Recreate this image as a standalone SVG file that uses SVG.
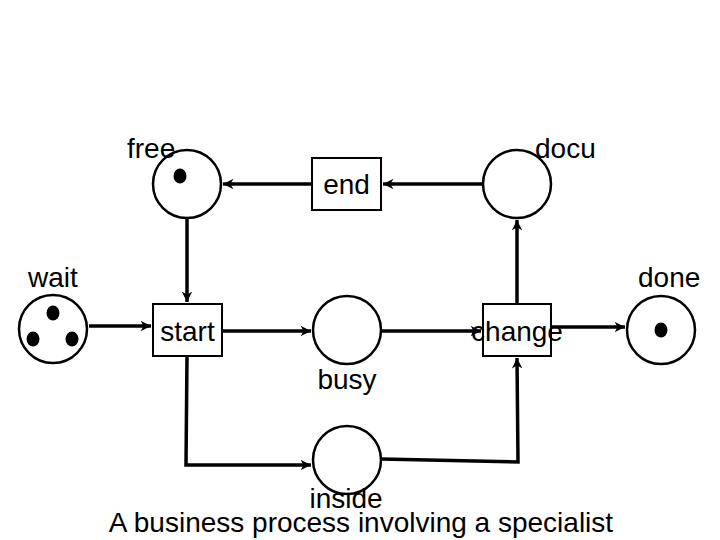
<svg xmlns="http://www.w3.org/2000/svg" width="720" height="540" viewBox="0 0 720 540">
<style>
.place{fill:#fff;stroke:#000;stroke-width:2.5}
.trans{fill:#fff;stroke:#000;stroke-width:2}
.tok{fill:#000}
.arc{fill:none;stroke:#000;stroke-width:3.5;marker-end:url(#ah)}
text{font-family:"Liberation Sans",Arial,sans-serif;font-size:28px;fill:#000}
</style>
<defs>
<marker id="ah" viewBox="0 0 10 10" refX="10" refY="5" markerWidth="3" markerHeight="3" orient="auto" markerUnits="strokeWidth">
<path d="M0,0 L10,5 L0,10 L3,5 Z" fill="#000"/>
</marker>
</defs>
<rect width="720" height="540" fill="#fff"/>
<g id="connectors">
<path class="arc" d="M483,184 L383,184"/>
<path class="arc" d="M312,184 L223,184"/>
<path class="arc" d="M187,218 L187,302"/>
<path class="arc" d="M89,326 L151,326"/>
<path class="arc" d="M222,331 L311,331"/>
<path class="arc" d="M381,331 L481,331"/>
<path class="arc" d="M551,327 L625,327"/>
<path class="arc" d="M517,304 L517,220"/>
<path class="arc" d="M187,356 L186,465 L311,465"/>
<path class="arc" d="M381,459 L518,462 L517,358"/>
</g>
<g id="free">
<circle class="place" cx="187" cy="184" r="34"/>
<ellipse class="tok" cx="180" cy="176" rx="6.5" ry="7.5"/>
<text x="127" y="158">free</text>
</g>
<g id="docu">
<circle class="place" cx="517" cy="184" r="34"/>
<text x="535" y="158">docu</text>
</g>
<g id="end">
<rect class="trans" x="312" y="158" width="69" height="52"/>
<text x="346.5" y="194" text-anchor="middle">end</text>
</g>
<g id="wait">
<circle class="place" cx="53" cy="329" r="34"/>
<ellipse class="tok" cx="53" cy="313" rx="6.5" ry="7.5"/>
<ellipse class="tok" cx="33" cy="339" rx="6.5" ry="7.5"/>
<ellipse class="tok" cx="72" cy="339" rx="6.5" ry="7.5"/>
<text x="28" y="287">wait</text>
</g>
<g id="start">
<rect class="trans" x="153" y="304" width="69" height="52"/>
<text x="187.5" y="341" text-anchor="middle">start</text>
</g>
<g id="busy">
<circle class="place" cx="347" cy="330" r="34"/>
<text x="347" y="389" text-anchor="middle">busy</text>
</g>
<g id="change">
<rect class="trans" x="483" y="304" width="68" height="52"/>
<text x="517" y="341" text-anchor="middle">change</text>
</g>
<g id="done">
<circle class="place" cx="661" cy="330" r="34"/>
<ellipse class="tok" cx="661" cy="330" rx="6.5" ry="7.5"/>
<text x="638" y="287">done</text>
</g>
<g id="inside">
<circle class="place" cx="347" cy="460" r="34"/>
<text x="346" y="508" text-anchor="middle">inside</text>
</g>
<text id="caption" x="361" y="532" text-anchor="middle">A business process involving a specialist</text>
</svg>
